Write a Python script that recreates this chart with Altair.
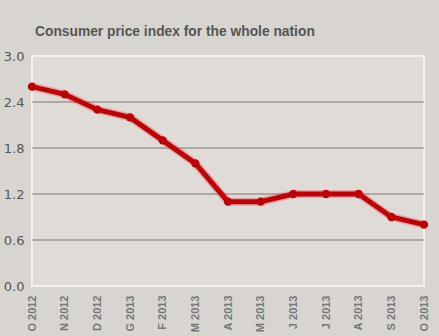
import json
import altair as alt
import pandas as pd

months = ["O 2012", "N 2012", "D 2012", "G 2013", "F 2013", "M 2013", "A 2013",
          "M 2013", "J 2013", "J 2013", "A 2013", "S 2013", "O 2013"]
cpi = [2.6, 2.5, 2.3, 2.2, 1.9, 1.6, 1.1, 1.1, 1.2, 1.2, 1.2, 0.9, 0.8]
y_ticks = [0.0, 0.6, 1.2, 1.8, 2.4, 3.0]
grid_vals = [0.6, 1.2, 1.8, 2.4]

df = pd.DataFrame({"i": list(range(len(months))), "label": months, "cpi": cpi})
gdf = pd.DataFrame({"g": grid_vals})

label_expr = json.dumps(months) + "[datum.value]"

x_enc = alt.X("i:Q", scale=alt.Scale(domain=[0, len(months) - 1], nice=False, zero=False),
              axis=alt.Axis(values=list(range(len(months))), labelExpr=label_expr,
                            labelAngle=-90, labelPadding=9, labelColor="#777777",
                            labelFont="Liberation Sans", labelFontSize=11,
                            labelFontWeight="bold",
                            domain=False, ticks=False, grid=False, title=None))
y_scale = alt.Scale(domain=[0, 3.0], nice=False)
y_enc = alt.Y("cpi:Q", scale=y_scale,
              axis=alt.Axis(values=y_ticks, format=".1f", labelColor="#555555",
                            labelFont="DejaVu Sans", labelFontSize=13, labelPadding=8,
                            domain=False, ticks=False, grid=False, title=None))

grid = alt.Chart(gdf).mark_rule(color="#9c9a96", strokeWidth=1.5).encode(
    y=alt.Y("g:Q", scale=y_scale)
)

glow = alt.Chart(df).mark_line(color="#e04848", strokeWidth=8, opacity=0.35).encode(x=x_enc, y=y_enc)
line = alt.Chart(df).mark_line(color="#c00008", strokeWidth=5).encode(x=x_enc, y=y_enc)
pts = alt.Chart(df).mark_circle(color="#c00008", size=70, opacity=1).encode(x=x_enc, y=y_enc)

chart = alt.layer(grid, glow, line, pts).properties(
    width=392, height=230,
    title=alt.TitleParams("Consumer price index for the whole nation", anchor="start",
                          frame="group",
                          font="Liberation Sans", fontSize=13.8, fontWeight="bold",
                          color="#555555", offset=11, dx=3),
    autosize=alt.AutoSizeParams(type="none"),
    padding={"left": 32, "top": 56, "right": 15, "bottom": 50},
    background="#d8d5d1",
).configure_view(fill="#dfdcd8", stroke="#f2f1ef", strokeWidth=2)

chart.save("out.html", embed_options={"renderer": "svg", "actions": False})
